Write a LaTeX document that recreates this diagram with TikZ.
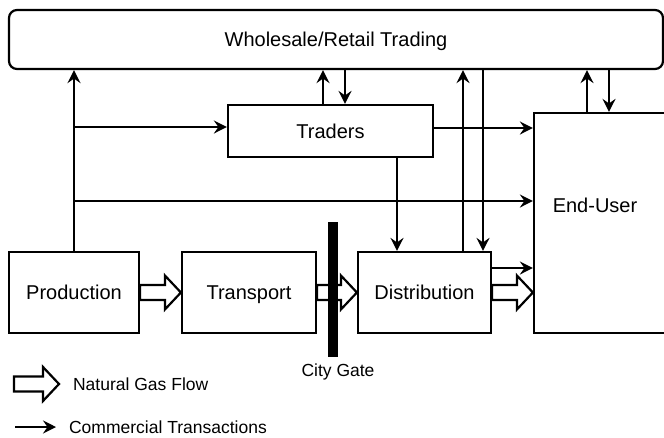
\documentclass[tikz,border=0pt]{standalone}
\usepackage{fontspec}
\setmainfont{Liberation Sans}
\usepackage{tikz}
\usetikzlibrary{positioning, calc, arrows.meta}

\tikzset{
  blk/.style={draw, inner sep=0pt, text height=14.3pt, text depth=0pt, font=\fontsize{20}{24}\selectfont},
  deal/.style={-{Stealth[length=13pt,width=13pt,inset=4.5pt]}},
  gas/.style={fill=white, line join=miter, to path={
      ($(\tikztostart)+(0,7.5)$) -- ($(\tikztotarget)+(-16,7.5)$)
      -- ($(\tikztotarget)+(-16,17)$) -- (\tikztotarget)
      -- ($(\tikztotarget)+(-16,-17)$) -- ($(\tikztotarget)+(-16,-7.5)$)
      -- ($(\tikztostart)+(0,-7.5)$) -- cycle}},
  lgd/.style={inner sep=0pt, font=\fontsize{17.5}{21}\selectfont}
}

\begin{document}
\begin{tikzpicture}[x=1pt, y=-1pt, line width=2.2pt]
      \useasboundingbox (0,0) rectangle (664,437);

      % ボックス
      \node[blk, rounded corners=8pt, minimum width=654pt, minimum height=59pt] (trading) at (336,39.5) {Wholesale/Retail Trading};
      \node[blk, minimum width=205pt, minimum height=52pt] (traders) at (330.5,131) {Traders};
      \node[blk, minimum width=166pt, minimum height=220pt] (enduser) at (617,223) {};
      \node[font=\fontsize{20}{24}\selectfont] (enduserlbl) at (595,205) {End-User};
      \node[blk, minimum width=130pt, minimum height=81pt] (production) at (74,292.5) {Production};
      \node[blk, minimum width=134pt, minimum height=81pt] (transport) at (249,292.5) {Transport};
      \node[blk, minimum width=133pt, minimum height=81pt] (distribution) at (424.5,292.5) {Distribution};

      % ガスの流れ
      \draw[gas] (production.east) to (transport.west);
      \draw[gas] (transport.east) to (distribution.west);
      \draw[gas] (distribution.east) to (distribution.east -| enduser.west);

      % シティゲート
      \node[fill, inner sep=0pt, minimum width=10pt, minimum height=135pt] (gate) at (333,289.5) {};
      \node[lgd] (gatelbl) at (338,372) {City Gate};

      % 取引の矢印
      \draw[deal] (production.north) -- (production.north |- trading.south);
      \draw[deal] (production.north |- 0,127) -- (traders.west |- 0,127);
      \draw[deal] (production.north |- 0,201) -- (enduser.west |- 0,201);
      \draw[deal] (traders.north -| 323,0) -- (trading.south -| 323,0);
      \draw[deal] (trading.south -| 345,0) -- (traders.north -| 345,0);
      \draw[deal] (traders.east |- 0,128) -- (enduser.west |- 0,128);
      \draw[deal] (traders.south -| 397,0) -- (distribution.north -| 397,0);
      \draw[deal] (distribution.north -| 463,0) -- (trading.south -| 463,0);
      \draw[deal] (trading.south -| 483,0) -- (distribution.north -| 483,0);
      \draw[deal] (distribution.east |- 0,268) -- (enduser.west |- 0,268);
      \draw[deal] (enduser.north -| 587,0) -- (trading.south -| 587,0);
      \draw[deal] (trading.south -| 609,0) -- (enduser.north -| 609,0);

      % 凡例
      \coordinate (gasA) at (14,384);
      \coordinate (gasB) at (59,384);
      \draw[gas] (gasA) to (gasB);
      \node[lgd, anchor=west] (gaslbl) at (72,384) {Natural Gas Flow};
      \coordinate (dealA) at (15,427);
      \coordinate (dealB) at (56,427);
      \draw[deal] (dealA) -- (dealB);
      \node[lgd, anchor=west] (deallbl) at (68,427) {Commercial Transactions};
  \end{tikzpicture}
\end{document}
